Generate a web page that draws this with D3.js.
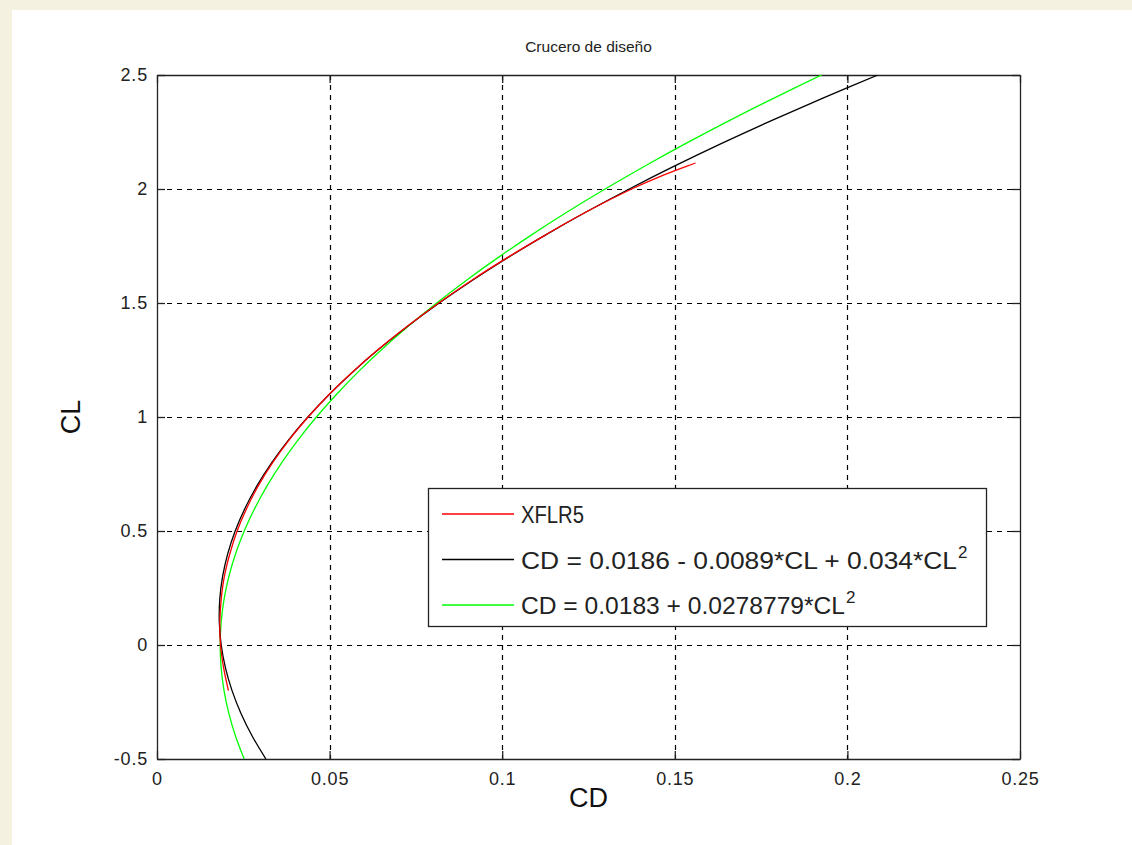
<!DOCTYPE html>
<html><head><meta charset="utf-8">
<script src="https://cdn.jsdelivr.net/npm/d3@7"></script>
<style>
html,body{margin:0;padding:0;background:#f4f1e0;}
svg{display:block;}
</style></head><body>
<svg id="c" width="1132" height="845"></svg>
<script>
// CL samples and CD values
const clFit = [-0.5,-0.4,-0.3,-0.2,-0.1,0,0.1,0.2,0.3,0.4,0.5,0.6,0.7,0.8,0.9,1.0,1.1,1.2,1.3,1.4,1.5,1.6,1.7,1.8,1.9,2.0,2.1,2.2,2.3,2.4,2.5];
const cdQuad = [0.03155,0.0276,0.02433,0.02174,0.01983,0.0186,0.01805,0.01818,0.01899,0.02048,0.02265,0.0255,0.02903,0.03324,0.03813,0.0437,0.04995,0.05688,0.06449,0.07278,0.08175,0.0914,0.10173,0.11274,0.12443,0.1368,0.14985,0.16358,0.17799,0.19308,0.20885];
const cdParab = [0.02527,0.02276,0.02081,0.01942,0.01858,0.0183,0.01858,0.01942,0.02081,0.02276,0.02527,0.02834,0.03196,0.03614,0.04088,0.04618,0.05203,0.05844,0.06541,0.07294,0.08103,0.08967,0.09887,0.10862,0.11894,0.12981,0.14124,0.15323,0.16577,0.17888,0.19254];
const clXflr = [-0.2,-0.1,0,0.1,0.2,0.3,0.4,0.5,0.6,0.7,0.8,0.9,1.0,1.1,1.2,1.3,1.4,1.5,1.6,1.7,1.8,1.9,2.0,2.05,2.1,2.114];
const cdXflr = [0.0207,0.0193,0.0184,0.0182,0.0186,0.0195,0.0211,0.0232,0.0260,0.0294,0.0335,0.0383,0.0438,0.0499,0.0568,0.0644,0.0727,0.0816,0.0912,0.1016,0.1127,0.1244,0.1375,0.1450,0.1535,0.1560];
const xTicks = [0,0.05,0.1,0.15,0.2,0.25];
const yTicks = [-0.5,0,0.5,1,1.5,2,2.5];
const xTickLabels = ["0","0.05","0.1","0.15","0.2","0.25"];
const yTickLabels = ["-0.5","0","0.5","1","1.5","2","2.5"];
const legendItems = [
  {color:"#ff0000", text:"XFLR5", sup:"", len:63},
  {color:"#000000", text:"CD = 0.0186 - 0.0089*CL + 0.034*CL", sup:"2", len:436},
  {color:"#00ff00", text:"CD = 0.0183 + 0.0278779*CL", sup:"2", len:324}
];

const svg = d3.select("#c");
svg.append("rect").attr("x",12).attr("y",10).attr("width",1120).attr("height",835).attr("fill","#ffffff");

const L=157, R=1020, T=75, B=759;
const x = d3.scaleLinear().domain([0,0.25]).range([L,R]);
const y = d3.scaleLinear().domain([-0.5,2.5]).range([B,T]);
const font = "'Liberation Sans', Arial, sans-serif";

const g = svg.append("g");
// grid
g.selectAll(".gx").data(xTicks.slice(1,-1)).enter().append("line")
  .attr("x1",d=>Math.round(x(d))+0.5).attr("x2",d=>Math.round(x(d))+0.5).attr("y1",T).attr("y2",B)
  .attr("stroke","#000").attr("stroke-width",1.2).attr("stroke-dasharray","5,5");
g.selectAll(".gy").data(yTicks.slice(1,-1)).enter().append("line")
  .attr("y1",d=>Math.round(y(d))+0.5).attr("y2",d=>Math.round(y(d))+0.5).attr("x1",L).attr("x2",R)
  .attr("stroke","#000").attr("stroke-width",1.2).attr("stroke-dasharray","5,5");

// axes with inner ticks (box)
const axB = d3.axisBottom(x).tickValues(xTicks).tickFormat((d,i)=>xTickLabels[i]).tickSizeInner(-8).tickSizeOuter(0).tickPadding(13);
const axT = d3.axisTop(x).tickValues(xTicks).tickFormat("").tickSizeInner(-8).tickSizeOuter(0);
const axL = d3.axisLeft(y).tickValues(yTicks).tickFormat((d,i)=>yTickLabels[i]).tickSizeInner(-8).tickSizeOuter(0).tickPadding(9);
const axR = d3.axisRight(y).tickValues(yTicks).tickFormat("").tickSizeInner(-8).tickSizeOuter(0);
function styleAx(sel){
  sel.selectAll("path").attr("stroke","#222").attr("stroke-width",1.3);
  sel.selectAll("line").attr("stroke","#222").attr("stroke-width",1.3);
  sel.selectAll("text").attr("font-family",font).attr("font-size",18).attr("letter-spacing",0.8).attr("fill","#222");
}
styleAx(svg.append("g").attr("transform",`translate(0,${B})`).call(axB));
styleAx(svg.append("g").attr("transform",`translate(0,${T})`).call(axT));
styleAx(svg.append("g").attr("transform",`translate(${L},0)`).call(axL));
styleAx(svg.append("g").attr("transform",`translate(${R},0)`).call(axR));

// curves
const line = d3.line().x(d=>x(d[0])).y(d=>y(d[1])).curve(d3.curveCatmullRom);
svg.append("clipPath").attr("id","pc").append("rect").attr("x",L).attr("y",T).attr("width",R-L).attr("height",B-T);
const pg = svg.append("g").attr("clip-path","url(#pc)");
pg.append("path").datum(clFit.map((c,i)=>[cdParab[i],c])).attr("d",line).attr("fill","none").attr("stroke","#00ff00").attr("stroke-width",1.3);
pg.append("path").datum(clFit.map((c,i)=>[cdQuad[i],c])).attr("d",line).attr("fill","none").attr("stroke","#000").attr("stroke-width",1.3);
pg.append("path").datum(clXflr.map((c,i)=>[cdXflr[i],c])).attr("d",line).attr("fill","none").attr("stroke","#ff0000").attr("stroke-width",1.3);

// title and labels
svg.append("text").attr("x",(L+R)/2).attr("y",52).attr("text-anchor","middle").attr("font-family",font).attr("font-size",15.5).attr("fill","#222").text("Crucero de diseño");
svg.append("text").attr("x",(L+R)/2).attr("y",807).attr("text-anchor","middle").attr("font-family",font).attr("font-size",27).attr("fill","#111").text("CD");
svg.append("text").attr("transform",`translate(80,${(T+B)/2}) rotate(-90)`).attr("text-anchor","middle").attr("font-family",font).attr("font-size",27).attr("fill","#111").text("CL");

// legend
const lg = svg.append("g");
lg.append("rect").attr("x",428.5).attr("y",488.5).attr("width",558).attr("height",138).attr("fill","#fff").attr("stroke","#222").attr("stroke-width",1.3);
legendItems.forEach((it,i)=>{
  const yy = 514 + i*45.5;
  lg.append("line").attr("x1",442).attr("x2",514).attr("y1",yy).attr("y2",yy).attr("stroke",it.color).attr("stroke-width",1.3);
  const t = lg.append("text").attr("x",521).attr("y",yy+9).attr("font-family",font).attr("font-size",23).attr("fill","#222");
  t.append("tspan").attr("textLength",it.len).attr("lengthAdjust","spacingAndGlyphs").text(it.text);
  if(it.sup) t.append("tspan").attr("dy",-11).attr("dx",1).attr("font-size",17).text(it.sup);
});
</script>
</body></html>
